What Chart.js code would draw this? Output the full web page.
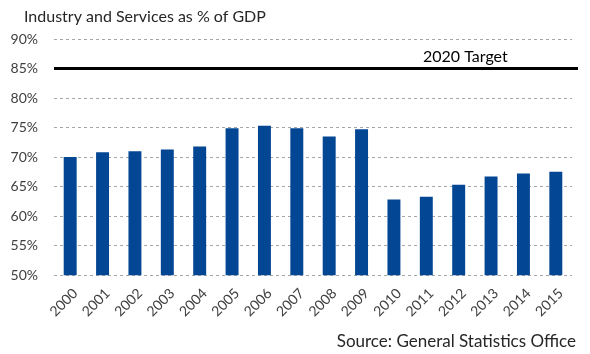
<!DOCTYPE html>
<html><head><meta charset="utf-8">
<script src="https://cdn.jsdelivr.net/npm/chart.js@4"></script>
<style>html,body{margin:0;padding:0;background:#fff}#w{width:590px;height:354px}</style>
</head><body><div id="w"><canvas id="c"></canvas></div>
<script>
const years = ["2000","2001","2002","2003","2004","2005","2006","2007","2008","2009","2010","2011","2012","2013","2014","2015"];
const shares = [70.0,70.8,71.0,71.3,71.8,74.9,75.3,74.9,73.5,74.7,62.8,63.3,65.3,66.7,67.2,67.5];
const targetValue = 85;
const targetLabel = "2020 Target";
const titleText = "Industry and Services as % of GDP";
const sourceText = "Source: General Statistics Office";
const FONT = "Lato, 'Open Sans', sans-serif";

const extras = {
  id: 'extras',
  afterDatasetsDraw(chart) {
    const {ctx, chartArea, scales} = chart;
    const y = scales.y.getPixelForValue(targetValue);
    ctx.save();
    ctx.strokeStyle = '#000';
    ctx.lineWidth = 3;
    ctx.beginPath();
    ctx.moveTo(chartArea.left, y);
    ctx.lineTo(chartArea.right + 6, y);
    ctx.stroke();
    ctx.fillStyle = '#000';
    ctx.font = "16px " + FONT;
    ctx.textBaseline = 'middle';
    ctx.textAlign = 'left';
    ctx.fillText(targetLabel, 423, y - 12);
    ctx.fillStyle = '#262626';
    ctx.font = "16px " + FONT;
    ctx.fillText(titleText, 24, 17);
    ctx.font = "17px " + FONT;
    ctx.textAlign = 'right';
    ctx.fillText(sourceText, 576, 342);
    ctx.restore();
  }
};

new Chart(document.getElementById('c'), {
  type: 'bar',
  data: { labels: years, datasets: [{ data: shares, backgroundColor: '#034694', barPercentage: 0.4, categoryPercentage: 1.0 }] },
  options: {
    responsive: true, maintainAspectRatio: false, animation: false,
    layout: { padding: { top: 39, left: 10, right: 18, bottom: 32 } },
    plugins: { legend: { display: false }, tooltip: { enabled: false } },
    scales: {
      x: {
        grid: { display: false },
        border: { display: false },
        afterFit(s) { s.paddingLeft = 0; s.paddingRight = 0; },
        ticks: { color: '#404040', font: { family: FONT, size: 14 }, maxRotation: 45, minRotation: 45, padding: 2, labelOffset: 5 }
      },
      y: {
        min: 50, max: 90,
        grid: { color: '#a6a6a6', drawTicks: false },
        border: { display: false, dash: [3, 3] },
        afterFit(s) { s.width = 44; },
        ticks: { stepSize: 5, color: '#404040', font: { family: FONT, size: 14 }, padding: 16, callback: v => v + '%' }
      }
    }
  },
  plugins: [extras]
});
</script></body></html>
